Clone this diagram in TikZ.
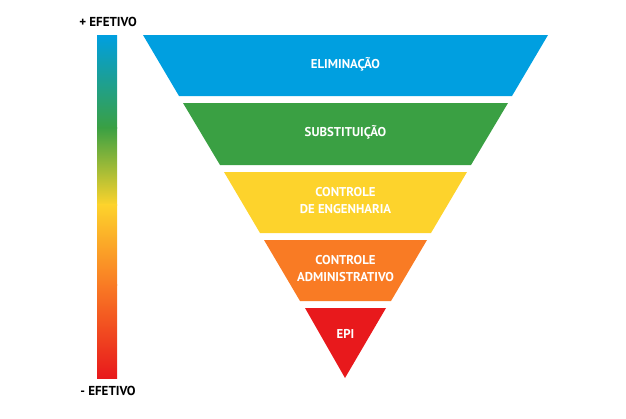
\documentclass[tikz,border=0pt]{standalone}
\usepackage{fontspec}
\setmainfont{PT Sans}
\definecolor{cblue}{HTML}{009FE0}
\definecolor{cgreen}{HTML}{3AA043}
\definecolor{cyellow}{HTML}{FDD32C}
\definecolor{corange}{HTML}{F97B24}
\definecolor{cred}{HTML}{E8191C}
\begin{document}
\begin{tikzpicture}[x=1pt,y=-1pt,
  lvltext/.style={text=white,font=\fontsize{12.8}{17}\selectfont\bfseries,align=center},
  endlabel/.style={text=black,font=\fontsize{13}{14}\selectfont\bfseries}]
\useasboundingbox (0,0) rectangle (626,418);
% gradient bar
\shade[top color=cblue,bottom color=cgreen] (97,35) rectangle (117,128);
\shade[top color=cgreen,bottom color=cyellow] (97,127.5) rectangle (117,205);
\shade[top color=cyellow,bottom color=corange] (97,204.5) rectangle (117,285);
\shade[top color=corange,bottom color=cred] (97,284.5) rectangle (117,378);
\node[endlabel] (plus) at (108,22) {+ EFETIVO};
\node[endlabel] (minus) at (108,391) {- EFETIVO};
% levels
\fill[cblue] (143,35) -- (548,35) -- (512,96) -- (179,96) -- cycle;
\fill[cgreen] (183,103) -- (508,103) -- (471,165) -- (220,165) -- cycle;
\fill[cyellow] (224,172) -- (467,172) -- (431,233) -- (260,233) -- cycle;
\fill[corange] (264,240) -- (427,240) -- (391,301) -- (300,301) -- cycle;
\fill[cred] (305,308) -- (386,308) -- (345,378) -- cycle;
\node[lvltext] (l1) at (345.5,64) {ELIMINAÇÃO};
\node[lvltext] (l2) at (345.5,132) {SUBSTITUIÇÃO};
\node[lvltext] (l3) at (345.5,201) {CONTROLE\\DE ENGENHARIA};
\node[lvltext] (l4) at (345.5,269) {CONTROLE\\ADMINISTRATIVO};
\node[lvltext] (l5) at (345.5,334) {EPI};
\end{tikzpicture}
\end{document}
